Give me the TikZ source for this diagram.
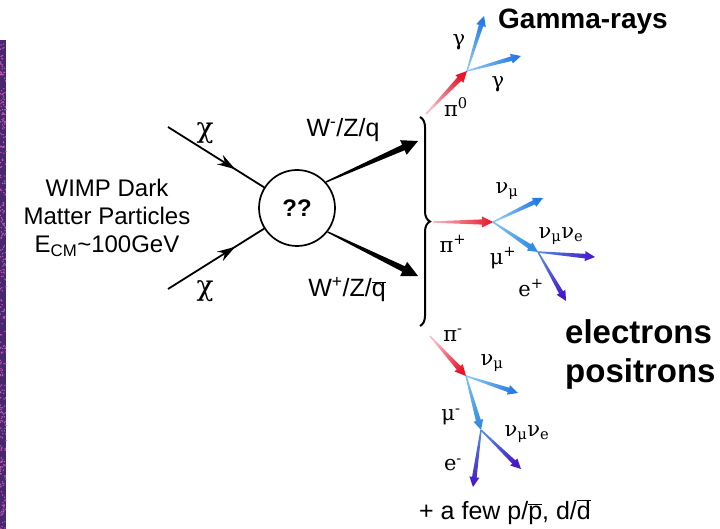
\documentclass[tikz,border=0pt]{standalone}
\usepackage{fontspec}
\setmainfont{Liberation Sans}
\newfontfamily\greekfont{DejaVu Serif}
\usetikzlibrary{calc, arrows.meta, decorations.pathreplacing, decorations.markings}

\definecolor{pionpale}{RGB}{248,185,198}
\definecolor{pionred}{RGB}{232,22,42}
\definecolor{nupale}{RGB}{140,200,245}
\definecolor{nublue}{RGB}{38,122,228}
\definecolor{mupale}{RGB}{120,190,240}
\definecolor{mublue}{RGB}{50,140,225}
\definecolor{epale}{RGB}{80,135,230}
\definecolor{eviolet}{RGB}{72,25,200}
\definecolor{stripbase}{RGB}{72,38,112}
\definecolor{stripdot}{RGB}{190,90,170}

% tapered particle track: from, to, tail colour, tip colour, neck half width, head half width, head length
\newcommand\jet[7]{%
  \pgfmathanglebetweenpoints{\pgfpointanchor{#1}{center}}{\pgfpointanchor{#2}{center}}%
  \pgfmathsetmacro\jetang{\pgfmathresult-90}%
  \coordinate (jn) at ($(#2)!#7!(#1)$);
  \shade[bottom color=#3, top color=#4, shading angle=\jetang]
    ($(#1)!0.7pt!90:(#2)$) -- ($(jn)!#5!90:(#2)$) -- ($(jn)!#6!90:(#2)$) -- (#2)
    -- ($(jn)!#6!-90:(#2)$) -- ($(jn)!#5!-90:(#2)$) -- ($(#1)!0.7pt!-90:(#2)$) -- cycle;
}

\begin{document}
\begin{tikzpicture}[x=1pt, y=-1pt,
    % styles
    txt/.style={font=\fontsize{24}{28}\selectfont, inner sep=0pt, align=center},
    wlbl/.style={font=\fontsize{25}{28}\selectfont, inner sep=0pt},
    grk/.style={font=\greekfont\fontsize{21}{24}\selectfont, inner sep=0pt},
    bigchi/.style={font=\greekfont\fontsize{28}{30}\selectfont, inner sep=0pt},
    headline/.style={font=\bfseries\fontsize{28}{30}\selectfont, inner sep=0pt, anchor=base},
    blobstyle/.style={circle, draw=black, line width=1.7pt, minimum size=76pt, inner sep=0pt, font=\bfseries\fontsize{24}{26}\selectfont},
    chiline/.style={line width=1.8pt, postaction={decorate},
      decoration={markings, mark=at position 0.7 with {\arrow{Stealth[length=18pt,width=11pt]}}}},
    bracestyle/.style={line width=2pt, decorate, decoration={brace, amplitude=10pt}}]

    \useasboundingbox (0,0) rectangle (720,529);
    \fill[white] (0,0) rectangle (720,529);

    % --- textured strip at the left edge ---
    \fill[stripbase] (0,40) rectangle (6,529);
    \pgfmathsetseed{7}
    \foreach \k in {1,...,320} {
      \pgfmathsetmacro\sx{rnd*6}
      \pgfmathsetmacro\sy{40+rnd*489}
      \fill[stripdot] (\sx,\sy) circle (0.8);
    }

    % --- annihilation vertex ---
    \node (blob) [blobstyle] at (297,208) {??};
    \node (wimp) [txt] at (107,218) {WIMP Dark\\Matter Particles\\E\textsubscript{CM}\textasciitilde100GeV};

    \coordinate (chiA) at (168,127);
    \coordinate (chiB) at (168,289);
    \node (chiAl) [bigchi] at (205,133) {χ};
    \node (chiBl) [bigchi] at (205,291) {χ};

    \draw [chiline] (chiA) -- (blob);
    \draw [chiline] (chiB) -- (blob);

    % --- gauge bosons / quarks ---
    \coordinate (wA0) at (blob.42);
    \coordinate (wA1) at (418,141);
    \coordinate (wB0) at (blob.-38);
    \coordinate (wB1) at (418,276);
    \jet{wA0}{wA1}{black}{black}{3pt}{8pt}{16pt}
    \jet{wB0}{wB1}{black}{black}{3pt}{8pt}{16pt}
    \node (wAl) [wlbl] at (343,130) {W\textsuperscript{-}/Z/q};
    \node (wBl) [wlbl] at (347,290) {W\textsuperscript{+}/Z/$\overline{\mbox{q}}$};

    \coordinate (braceT) at (420,117);
    \coordinate (braceB) at (420,326);
    \draw [bracestyle] (braceT) -- (braceB);

    % --- neutral pion branch ---
    \coordinate (pzA) at (426,114);
    \coordinate (pzB) at (467,71);
    \coordinate (gA) at (484,16);
    \coordinate (gB) at (521,56);
    \jet{pzA}{pzB}{pionpale}{pionred}{2.6pt}{5.5pt}{11pt}
    \jet{pzB}{gA}{nupale}{nublue}{2.3pt}{5pt}{10pt}
    \jet{pzB}{gB}{nupale}{nublue}{2.3pt}{5pt}{10pt}
    \node (pzl) [grk] at (456,107) {π\textsuperscript{0}};
    \node (gAl) [grk] at (459,42) {γ};
    \node (gBl) [grk] at (498,84) {γ};
    \node (gamma) [headline] at (583,29) {Gamma-rays};

    % --- positive pion branch ---
    \coordinate (ppA) at (433,222);
    \coordinate (ppB) at (493,222);
    \coordinate (npA) at (543,198);
    \coordinate (mpB) at (538,252);
    \coordinate (nnA) at (595,257);
    \coordinate (epA) at (566,301);
    \jet{ppA}{ppB}{pionpale}{pionred}{2.6pt}{5.5pt}{11pt}
    \jet{ppB}{npA}{nupale}{nublue}{2.3pt}{5pt}{10pt}
    \jet{ppB}{mpB}{mupale}{mublue}{2.5pt}{5pt}{10pt}
    \jet{mpB}{nnA}{epale}{eviolet}{2.3pt}{5pt}{10pt}
    \jet{mpB}{epA}{epale}{eviolet}{2.3pt}{5pt}{10pt}
    \node (ppl) [grk] at (453,244) {π\textsuperscript{+}};
    \node (npl) [grk] at (507,191) {ν\textsubscript{μ}};
    \node (mpl) [grk] at (503,258) {μ\textsuperscript{+}};
    \node (nnpl) [grk] at (561,236) {ν\textsubscript{μ}ν\textsubscript{e}};
    \node (epl) [grk] at (531,288) {e\textsuperscript{+}};

    % --- negative pion branch ---
    \coordinate (pmA) at (430,336);
    \coordinate (pmB) at (466,376);
    \coordinate (nmA) at (518,393);
    \coordinate (mmB) at (481,430);
    \coordinate (nnB) at (521,469);
    \coordinate (emA) at (473,487);
    \jet{pmA}{pmB}{pionpale}{pionred}{2.6pt}{5.5pt}{11pt}
    \jet{pmB}{nmA}{nupale}{nublue}{2.3pt}{5pt}{10pt}
    \jet{pmB}{mmB}{mupale}{mublue}{2.5pt}{5pt}{10pt}
    \jet{mmB}{nnB}{epale}{eviolet}{2.3pt}{5pt}{10pt}
    \jet{mmB}{emA}{epale}{eviolet}{2.3pt}{5pt}{10pt}
    \node (pml) [grk] at (453,335) {π\textsuperscript{-}};
    \node (nml) [grk] at (492,363) {ν\textsubscript{μ}};
    \node (mml) [grk] at (451,417) {μ\textsuperscript{-}};
    \node (nnml) [grk] at (527,434) {ν\textsubscript{μ}ν\textsubscript{e}};
    \node (eml) [grk] at (453,465) {e\textsuperscript{-}};

    \node (lepton) [headline, font=\bfseries\fontsize{33}{36}\selectfont, anchor=base west] at (565,343) {electrons};
    \node (lepton2) [headline, font=\bfseries\fontsize{33}{36}\selectfont, anchor=base west] at (565,382) {positrons};
    \node (few) [wlbl, font=\fontsize{25}{28}\selectfont] at (505,512) {+ a few p/$\overline{\mbox{p}}$, d/$\overline{\mbox{d}}$};

\end{tikzpicture}
\end{document}
